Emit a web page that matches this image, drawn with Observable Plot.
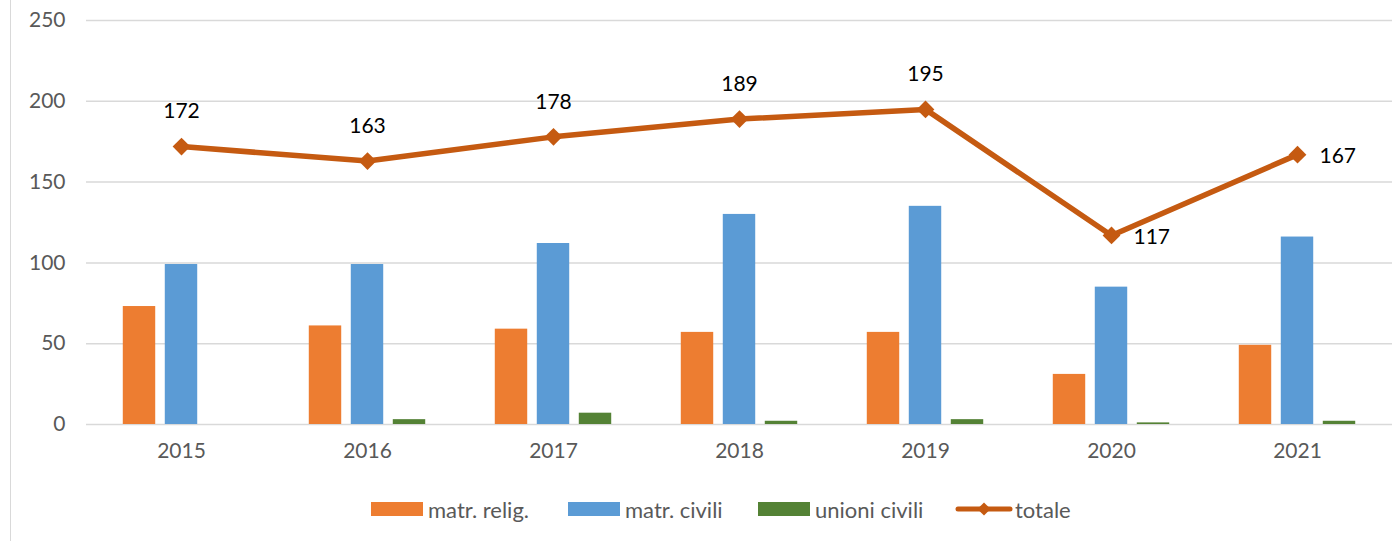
<!DOCTYPE html>
<html>
<head>
<meta charset="utf-8">
<script src="https://cdn.jsdelivr.net/npm/d3@7"></script>
<script src="https://cdn.jsdelivr.net/npm/@observablehq/plot@0.6"></script>
<style>
  html, body { margin: 0; padding: 0; background: #fff; }
  #wrap { position: relative; width: 1392px; height: 541px; overflow: hidden; font-family: Lato, "Open Sans", sans-serif; }
  #border { position: absolute; left: 10px; top: 0; width: 0; height: 541px; border-left: 1px solid #d9d9d9; }
  #chart { position: absolute; left: 0; top: 0; }
  #legend { position: absolute; top: 495px; left: 0; width: 1392px; height: 28px; font-size: 22px; color: #595959; }
  .item { position: absolute; top: 0; display: flex; align-items: center; height: 28px; white-space: nowrap; }
  .sw { width: 52px; height: 14px; margin-right: 5px; }
</style>
</head>
<body>
<div id="wrap">
  <div id="border"></div>
  <div id="chart"></div>
  <div id="legend"></div>
</div>
<script>
const years = ["2015", "2016", "2017", "2018", "2019", "2020", "2021"];
const matrRelig = [73, 61, 59, 57, 57, 31, 49];
const matrCivili = [99, 99, 112, 130, 135, 85, 116];
const unioniCivili = [0, 3, 7, 2, 3, 1, 2];
const totale = [172, 163, 178, 189, 195, 117, 167];
const yTicks = [0, 50, 100, 150, 200, 250];
const seriesNames = ["matr. relig.", "matr. civili", "unioni civili", "totale"];

const colors = {relig: "#ed7d31", civili: "#5b9bd5", unioni: "#548235", totale: "#c55a11"};

const rows = (vals) => years.map((y, i) => ({year: y, value: vals[i]}));
const relig = rows(matrRelig);
const civili = rows(matrCivili);
const unioni = rows(unioniCivili);
const tot = rows(totale);

const W = 1392, H = 470, mL = 86, mR = 0;
const band = (W - mL - mR) / years.length;
const barW = 33;
const inset = (band - barW) / 2;
const off = 42;

const chart = Plot.plot({
  width: W,
  height: H,
  marginLeft: mL,
  marginRight: mR,
  marginTop: 20,
  marginBottom: 46,
  style: {fontFamily: "Lato, 'Open Sans', sans-serif", fontSize: "21px", background: "transparent"},
  x: {type: "band", domain: years, padding: 0, label: null},
  y: {domain: [0, 250], ticks: yTicks, label: null},
  marks: [
    Plot.ruleY(yTicks, {stroke: "#d9d9d9", strokeWidth: 1.5}),
    Plot.axisY({ticks: yTicks, tickSize: 0, tickPadding: 21, label: null, fill: "#595959", fontSize: 21}),
    Plot.axisX({tickSize: 0, tickPadding: 19, label: null, fill: "#595959", fontSize: 21}),
    Plot.barY(relig, {x: "year", y: "value", fill: colors.relig, insetLeft: inset, insetRight: inset, dx: -off}),
    Plot.barY(civili, {x: "year", y: "value", fill: colors.civili, insetLeft: inset, insetRight: inset}),
    Plot.barY(unioni, {x: "year", y: "value", fill: colors.unioni, insetLeft: inset, insetRight: inset, dx: off}),
    Plot.line(tot, {x: "year", y: "value", stroke: colors.totale, strokeWidth: 5.5, strokeLinejoin: "round"}),
    Plot.dot(tot, {x: "year", y: "value", symbol: "diamond2", r: 8, fill: colors.totale, stroke: "none"}),
    Plot.text(tot.filter(d => d.year < "2020"), {x: "year", y: "value", text: d => String(d.value), dy: -35, fill: "#000", fontSize: 21}),
    Plot.text(tot.filter(d => d.year >= "2020"), {x: "year", y: "value", text: d => String(d.value), dx: 22, dy: 2, textAnchor: "start", fill: "#000", fontSize: 21})
  ]
});
document.getElementById("chart").appendChild(chart);

// Legend
const legend = document.getElementById("legend");
const lefts = [371, 568, 758, 955];
const swColors = [colors.relig, colors.civili, colors.unioni];
seriesNames.forEach((name, i) => {
  const item = document.createElement("div");
  item.className = "item";
  item.style.left = lefts[i] + "px";
  if (i < 3) {
    const sw = document.createElement("div");
    sw.className = "sw";
    sw.style.background = swColors[i];
    item.appendChild(sw);
  } else {
    const ns = "http://www.w3.org/2000/svg";
    const s = document.createElementNS(ns, "svg");
    s.setAttribute("width", "58");
    s.setAttribute("height", "28");
    s.style.marginRight = "2px";
    const l = document.createElementNS(ns, "line");
    l.setAttribute("x1", "3"); l.setAttribute("x2", "55");
    l.setAttribute("y1", "14"); l.setAttribute("y2", "14");
    l.setAttribute("stroke", colors.totale);
    l.setAttribute("stroke-width", "5");
    l.setAttribute("stroke-linecap", "round");
    s.appendChild(l);
    const p = document.createElementNS(ns, "path");
    p.setAttribute("d", d3.symbol(d3.symbolDiamond2, 110)());
    p.setAttribute("transform", "translate(29,14)");
    p.setAttribute("fill", colors.totale);
    s.appendChild(p);
    item.appendChild(s);
  }
  const t = document.createElement("span");
  t.textContent = name;
  item.appendChild(t);
  legend.appendChild(item);
});
</script>
</body>
</html>
